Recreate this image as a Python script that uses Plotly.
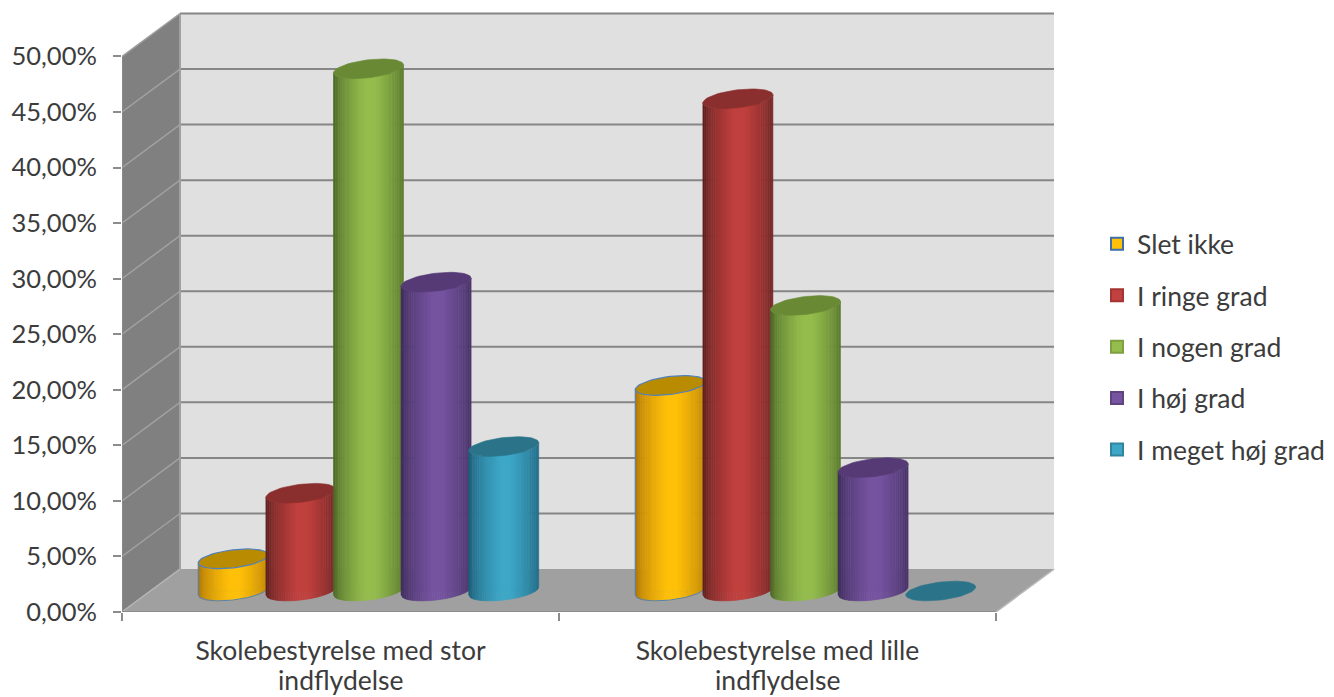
import numpy as np
import plotly.graph_objects as go

categories = ["Skolebestyrelse med stor", "Skolebestyrelse med lille"]
second_line = ["indflydelse", "indflydelse"]
series_names = ["Slet ikke", "I ringe grad", "I nogen grad", "I høj grad", "I meget høj grad"]
slet_ikke = [2.9, 18.5]
i_ringe_grad = [8.8, 44.3]
i_nogen_grad = [47.0, 25.7]
i_hoj_grad = [27.8, 11.1]
i_meget_hoj_grad = [13.0, 0.0]
series_values = [slet_ikke, i_ringe_grad, i_nogen_grad, i_hoj_grad, i_meget_hoj_grad]
y_ticks = [0, 5, 10, 15, 20, 25, 30, 35, 40, 45, 50]
y_labels = ["0,00%", "5,00%", "10,00%", "15,00%", "20,00%", "25,00%", "30,00%", "35,00%", "40,00%", "45,00%", "50,00%"]

base_cols = [(255, 192, 10), (192, 65, 63), (148, 189, 77), (118, 84, 160), (62, 167, 200)]
edge_cols = [(176, 120, 5), (96, 34, 33), (78, 106, 40), (62, 44, 92), (30, 96, 122)]
top_cols = ["#B98B00", "#8A2F2D", "#6A8935", "#553A75", "#2B7389"]
leg_line = ["#3F6FA8", "#A33533", "#7E9F42", "#5F437F", "#31859C"]
outline = ["#4F81BD", None, None, None, None]

PX_X = 437.0
PX_Y = 11.12
X0, X1 = -0.5, 1.5
X_RIGHT = 1.5 + 60 / PX_X
Y_TOP = 54.0
DX = 58 / PX_X          # depth offset of back wall
DY = 43 / PX_Y
BASE = 21 / PX_Y        # cylinder base sits half way through the depth
SHIFT = 28 / PX_X
STEP = 67.6 / PX_X
A = 35 / PX_X
B = 9 / PX_Y
S = 4 / PX_Y
N = 40
GRID = "#868686"

fig = go.Figure()

# real value bars (legend carriers) hidden behind the shaded cylinders
for i, name in enumerate(series_names):
    fig.add_trace(go.Bar(
        x=[c + SHIFT + (i - 2) * STEP for c in range(2)],
        y=series_values[i], base=[BASE, BASE], width=A * 1.2,
        name=name, legendgroup=name,
        marker=dict(color="rgb(%d,%d,%d)" % base_cols[i], line=dict(color=leg_line[i], width=2)),
        hoverinfo="skip",
    ))

edges = np.linspace(-1, 1, N + 1)
for i, name in enumerate(series_names):
    vals = series_values[i]
    for k in range(N):
        u0, u1 = edges[k], edges[k + 1]
        um = (u0 + u1) / 2
        f = max(0.0, min(1.0, (1 - abs(um - 0.05)) / 0.85)) ** 0.6
        col = tuple(int(edge_cols[i][j] + (base_cols[i][j] - edge_cols[i][j]) * f) for j in range(3))
        us = np.linspace(u0, u1, 4)
        xs, ys = [], []
        for c in range(2):
            v = vals[c]
            if v <= 0:
                continue
            cx = c + SHIFT + (i - 2) * STEP
            front = S * us - B * np.sqrt(np.clip(1 - us ** 2, 0, 1))
            xs += list(cx + A * us) + list(cx + A * us[::-1]) + [cx + A * us[0], None]
            ys += list(BASE + front) + list((BASE + v + front)[::-1]) + [BASE + front[0], None]
        fig.add_trace(go.Scatter(
            x=xs, y=ys, mode="lines", fill="toself",
            fillcolor="rgb(%d,%d,%d)" % col,
            line=dict(color="rgb(%d,%d,%d)" % col, width=0.6),
            showlegend=False, hoverinfo="skip",
        ))
    t = np.linspace(0, 2 * np.pi, 61)
    ex, ey = [], []
    for c in range(2):
        cx = c + SHIFT + (i - 2) * STEP
        ex += list(cx + A * np.cos(t)) + [None]
        ey += list(BASE + vals[c] + B * np.sin(t) + S * np.cos(t)) + [None]
    fig.add_trace(go.Scatter(
        x=ex, y=ey, mode="lines", fill="toself", fillcolor=top_cols[i],
        line=dict(color=outline[i] or top_cols[i], width=1.2 if outline[i] else 0.6),
        showlegend=False, hoverinfo="skip",
    ))
    if outline[i]:
        us = np.linspace(-1, 1, 41)
        ox, oy = [], []
        for c in range(2):
            cx = c + SHIFT + (i - 2) * STEP
            front = S * us - B * np.sqrt(1 - us ** 2)
            ox += [cx - A] + list(cx + A * us) + [cx + A, None]
            oy += [BASE + vals[c] - S] + list(BASE + front) + [BASE + vals[c] + S, None]
        fig.add_trace(go.Scatter(
            x=ox, y=oy, mode="lines", line=dict(color=outline[i], width=1),
            showlegend=False, hoverinfo="skip",
        ))

# walls
shapes = []
def poly(pts, fill):
    d = "M" + "L".join(f"{x},{y}" for x, y in pts) + "Z"
    shapes.append(dict(type="path", path=d, xref="x", yref="y", fillcolor=fill, line=dict(width=0), layer="below"))
def seg(x0, y0, x1, y1, color=GRID, w=2):
    shapes.append(dict(type="line", xref="x", yref="y", x0=x0, y0=y0, x1=x1, y1=y1,
                       line=dict(color=color, width=w), layer="below"))

poly([(X0 + DX, DY), (X1 + DX, DY), (X1 + DX, 50 + DY), (X0 + DX, 50 + DY)], "#E0E0E0")
poly([(X0, 0), (X0 + DX, DY), (X0 + DX, 50 + DY), (X0, 50)], "#808080")
poly([(X0, 0), (X1, 0), (X1 + DX, DY), (X0 + DX, DY)], "#A0A0A0")
for v in y_ticks:
    if v > 0:
        seg(X0 + DX, v + DY, X1 + DX, v + DY)
    seg(X0, v, X0 + DX, v + DY, "#A0A0A0" if v else "#B4B4B4", 1.5)
seg(X0 + DX, DY, X0 + DX, 50 + DY, "#A0A0A0", 2)
seg(X0, 0, X0, 50, "#8C8C8C", 1.5)
seg(X0, 0, X1, 0, "#8C8C8C", 2)
seg(X1, 0, X1 + DX, DY, "#B8B8B8", 1.5)

FAMILY = "Lato, Carlito, Calibri, sans-serif"
font = dict(family=FAMILY, size=26.5, color="#3C3C3C")
annotations = [dict(x=c, y=0, xref="x", yref="paper", yshift=-68, text=second_line[c],
                    showarrow=False, font=font, xanchor="center", yanchor="middle") for c in range(2)]

fig.update_layout(
    width=1326, height=689, autosize=False,
    margin=dict(l=114, r=278, t=4, b=85, pad=0),
    paper_bgcolor="white", plot_bgcolor="white",
    barmode="overlay",
    font=font, shapes=shapes, annotations=annotations,
    legend=dict(x=1089 / 1326, xref="container", y=1 - 212 / 689, yref="container",
                xanchor="left", yanchor="top", tracegroupgap=14, font=dict(family=FAMILY, size=26.5, color="#3C3C3C"),
                bgcolor="rgba(0,0,0,0)", traceorder="grouped", itemwidth=30),
    xaxis=dict(range=[X0, X_RIGHT], tickmode="array", tickvals=[0, 1], ticktext=categories,
               showgrid=False, zeroline=False, showline=False, ticks="", ticklabelstandoff=20,
               minor=dict(tickmode="array", tickvals=[-0.5, 0.5, 1.5], ticks="outside", ticklen=8,
                          tickcolor="#8C8C8C", tickwidth=1.5, showgrid=False),
               tickfont=font, fixedrange=True),
    yaxis=dict(range=[0, Y_TOP], tickmode="array", tickvals=y_ticks, ticktext=y_labels,
               showgrid=False, zeroline=False, showline=False, ticks="outside", ticklen=8,
               tickcolor="#8C8C8C", tickwidth=1.5, ticklabelstandoff=11,
               tickfont=dict(family=FAMILY, size=25.5, color="#3C3C3C"),
               fixedrange=True),
)
fig.write_html("out.html")
